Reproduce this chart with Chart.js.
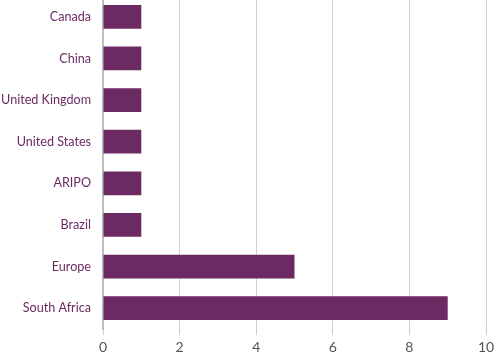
<!DOCTYPE html>
<html><head><meta charset="utf-8">
<script src="https://cdn.jsdelivr.net/npm/chart.js@4/dist/chart.umd.min.js"></script>
<style>html,body{margin:0;padding:0;background:#fff;overflow:hidden}
#wrap{position:relative;width:494px;height:360px;top:-4px}</style>
</head><body>
<div id="wrap"><canvas id="c"></canvas></div>
<script>
const categories = ["Canada","China","United Kingdom","United States","ARIPO","Brazil","Europe","South Africa"];
const values = [1,1,1,1,1,1,5,9];
const xTicks = [0,2,4,6,8,10];

new Chart(document.getElementById('c'), {
  type: 'bar',
  data: { labels: categories, datasets: [{ data: values, backgroundColor: '#6B2B62', borderWidth: 0, barPercentage: 0.57, categoryPercentage: 1 }] },
  options: {
    indexAxis: 'y', responsive: true, maintainAspectRatio: false, animation: false,
    layout: { padding: { left: 0, right: 0, top: 0, bottom: 0 } },
    plugins: { legend: { display: false }, tooltip: { enabled: false } },
    scales: {
      x: { min: 0, max: 10,
        afterBuildTicks: (ax) => { ax.ticks = xTicks.map(v => ({ value: v })); },
        afterFit: (s) => { s.height = 27; s.paddingRight = 8; s.paddingLeft = 0; },
        grid: { color: '#cfcfcf', lineWidth: 1, tickLength: 6 },
        border: { display: false },
        ticks: { color: '#555', font: { family: 'Lato', size: 14 }, padding: 4 } },
      y: { grid: { display: false, drawTicks: false },
        afterFit: (s) => { s.paddingTop = 0; s.paddingBottom = 0; s.width = 103; },
        border: { display: true, color: '#bdbdbd', width: 2 },
        ticks: { color: '#6B2B62', font: { family: 'Lato', size: 12.6 }, padding: 12 } }
    }
  }
});
</script>
</body></html>
